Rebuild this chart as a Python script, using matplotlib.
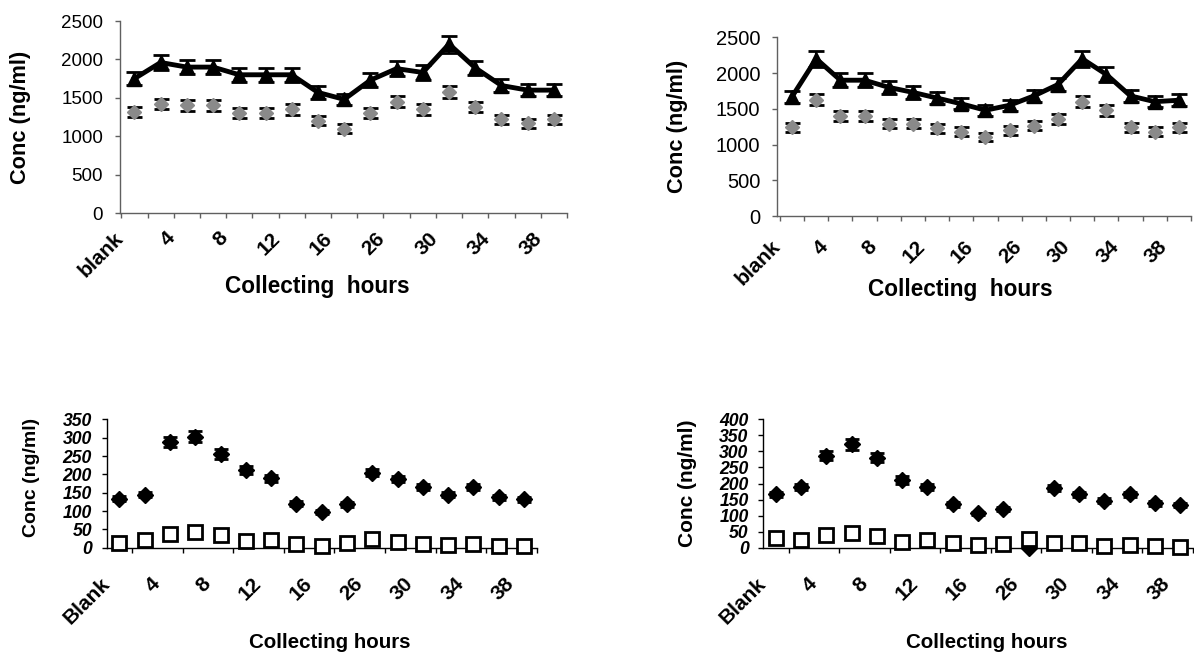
import numpy as np
import matplotlib
matplotlib.use("Agg")
import matplotlib.pyplot as plt

plt.rcParams['font.family'] = ['Liberation Sans', 'DejaVu Sans']

# --- DATA ---
hours_top = ['blank', '2', '4', '6', '8', '10', '12', '14', '16', '24',
             '26', '28', '30', '32', '34', '36', '38']
hours_bottom = ['Blank'] + hours_top[1:]

# top-left panel
tl_black = [1750, 1960, 1900, 1900, 1800, 1800, 1800, 1570, 1480, 1730,
            1880, 1830, 2200, 1890, 1660, 1600, 1600]
tl_black_err = [88, 98, 95, 95, 90, 90, 90, 79, 74, 87, 94, 92, 110, 95, 83, 80, 80]
tl_grey = [1320, 1420, 1400, 1400, 1300, 1300, 1350, 1200, 1100, 1300,
           1450, 1350, 1580, 1380, 1220, 1170, 1220]
tl_grey_err = [66, 71, 70, 70, 65, 65, 68, 60, 55, 65, 73, 68, 79, 69, 61, 59, 61]

# top-right panel
tr_black = [1670, 2200, 1900, 1900, 1800, 1730, 1650, 1570, 1480, 1550,
            1680, 1840, 2200, 1980, 1680, 1600, 1620]
tr_black_err = [84, 110, 95, 95, 90, 87, 83, 79, 74, 78, 84, 92, 110, 99, 84, 80, 81]
tr_grey = [1240, 1630, 1400, 1400, 1290, 1290, 1230, 1180, 1100, 1200,
           1260, 1360, 1600, 1480, 1240, 1180, 1240]
tr_grey_err = [62, 82, 70, 70, 65, 65, 62, 59, 55, 60, 63, 68, 80, 74, 62, 59, 62]

# bottom-left panel
bl_black = [133, 145, 288, 302, 256, 211, 189, 120, 98, 118, 205, 187, 165,
            144, 166, 137, 132]
bl_black_err = [7, 7, 14, 15, 13, 11, 9, 6, 5, 6, 10, 9, 8, 7, 8, 7, 7]
bl_open = [14, 22, 38, 43, 34, 18, 22, 10, 6, 12, 24, 15, 11, 8, 10, 5, 5]
bl_open_err = [1, 1, 2, 2, 2, 1, 1, 1, 0.5, 1, 1, 1, 1, 0.5, 0.5, 0.3, 0.3]

# bottom-right panel
br_black = [167, 190, 286, 322, 280, 211, 188, 135, 107, 120, 0, 187, 166,
            147, 167, 138, 133]
br_black_err = [8, 10, 14, 16, 14, 11, 9, 7, 5, 6, 0, 9, 8, 7, 8, 7, 7]
br_open = [29, 24, 40, 45, 37, 19, 24, 16, 8, 12, 26, 14, 14, 6, 9, 6, 3]
br_open_err = [1.5, 1, 2, 2, 2, 1, 1, 1, 0.5, 0.5, 1, 1, 1, 0.3, 0.5, 0.3, 0.2]

GREY = '#8a8a8a'

fig = plt.figure(figsize=(11.94, 6.55), dpi=100)

ax_tl = fig.add_axes([0.1005, 0.6748, 0.3744, 0.2931])
ax_tr = fig.add_axes([0.6508, 0.6702, 0.3467, 0.2728])
ax_bl = fig.add_axes([0.0894, 0.1638, 0.3601, 0.1960])
ax_br = fig.add_axes([0.6393, 0.1638, 0.3596, 0.1960])


def setup_x(ax, labels, shift, pad, color):
    n = len(labels)
    x = np.arange(n)
    ax.set_xlim(-0.5, n - 0.5)
    ax.set_xticks(np.arange(-0.5, n, 1), minor=True)
    # only every other category is labelled, as in the original
    ax.set_xticks(x[::2] + shift)
    ax.set_xticklabels(labels[::2], rotation=45, ha='right', va='center',
                       rotation_mode='anchor', fontweight='bold', fontsize=15)
    ax.tick_params(axis='x', which='major', length=0, pad=pad)
    ax.tick_params(axis='x', which='minor', length=3.6, width=1.0,
                   direction='out', color=color)
    for side in ('top', 'right'):
        ax.spines[side].set_visible(False)
    for side in ('left', 'bottom'):
        ax.spines[side].set_color(color)
        ax.spines[side].set_linewidth(1.0)


# --- TOP PANELS: line + triangles, grey diamonds ---
for ax, black, black_err, grey, grey_err, shift, pad, ysize, ylx in [
        (ax_tl, tl_black, tl_black_err, tl_grey, tl_grey_err, -0.55, 16, 13.5, -0.199),
        (ax_tr, tr_black, tr_black_err, tr_grey, tr_grey_err, -0.62, 20, 14.5, -0.215)]:
    x = np.arange(len(black))
    ax.errorbar(x, grey, yerr=grey_err, fmt='none', ecolor='black',
                elinewidth=1.5, capsize=5.4, capthick=2, zorder=2)
    ax.plot(x, grey, linestyle='None', marker='D', markersize=7,
            color=GREY, markeredgecolor=GREY, zorder=3)
    ax.errorbar(x, black, yerr=black_err, fmt='none', ecolor='black',
                elinewidth=1.5, capsize=5.5, capthick=2, zorder=2)
    ax.plot(x, black, color='black', linewidth=3.5, marker='^',
            markersize=10.5, zorder=4)
    ax.set_ylim(0, 2500)
    ax.set_yticks(np.arange(0, 2501, 500))
    ax.tick_params(axis='y', length=3.6, width=1.0, pad=8.5,
                   labelsize=ysize, color='#606060')
    setup_x(ax, hours_top, shift, pad, '#606060')
    ax.set_ylabel('Conc (ng/ml)', fontweight='bold', fontsize=15.7)
    ax.yaxis.set_label_coords(ylx, 0.5)

# --- BOTTOM PANELS: black diamonds, open squares ---
for ax, black, black_err, opn, opn_err, ymax, ylx, yly, ylsize in [
        (ax_bl, bl_black, bl_black_err, bl_open, bl_open_err, 350, -0.155, 0.546, 14),
        (ax_br, br_black, br_black_err, br_open, br_open_err, 400, -0.154, 0.505, 15)]:
    x = np.arange(len(black))
    ax.errorbar(x, black, yerr=black_err, fmt='D', color='black',
                markersize=8, elinewidth=1.5, capsize=5, capthick=2,
                zorder=3, clip_on=False)
    ax.errorbar(x, opn, yerr=opn_err, fmt='s', color='black',
                markerfacecolor='white', markeredgecolor='black',
                markersize=9.5, markeredgewidth=2, elinewidth=1.0,
                capsize=3, zorder=4, clip_on=False)
    ax.set_ylim(0, ymax)
    yt = np.arange(0, ymax + 1, 50)
    ax.set_yticks(yt)
    ax.set_yticklabels([str(v) for v in yt], fontweight='bold',
                       fontstyle='italic', fontsize=12.7)
    ax.tick_params(axis='y', length=3.6, width=1.0, pad=7, color='black')
    setup_x(ax, hours_bottom, -0.5, 24, 'black')
    ax.set_ylabel('Conc (ng/ml)', fontweight='bold', fontsize=ylsize)
    ax.yaxis.set_label_coords(ylx, yly)

# x-axis titles
fig.text(0.2659, 0.5527, 'Collecting  hours', ha='center', va='baseline',
         fontweight='bold', fontsize=16.3)
fig.text(0.804, 0.5481, 'Collecting  hours', ha='center', va='baseline',
         fontweight='bold', fontsize=16.3)
fig.text(0.2764, 0.0107, 'Collecting hours', ha='center', va='baseline',
         fontweight='bold', fontsize=14.8)
fig.text(0.8262, 0.0107, 'Collecting hours', ha='center', va='baseline',
         fontweight='bold', fontsize=14.8)

fig.savefig('out.png', dpi=100)
